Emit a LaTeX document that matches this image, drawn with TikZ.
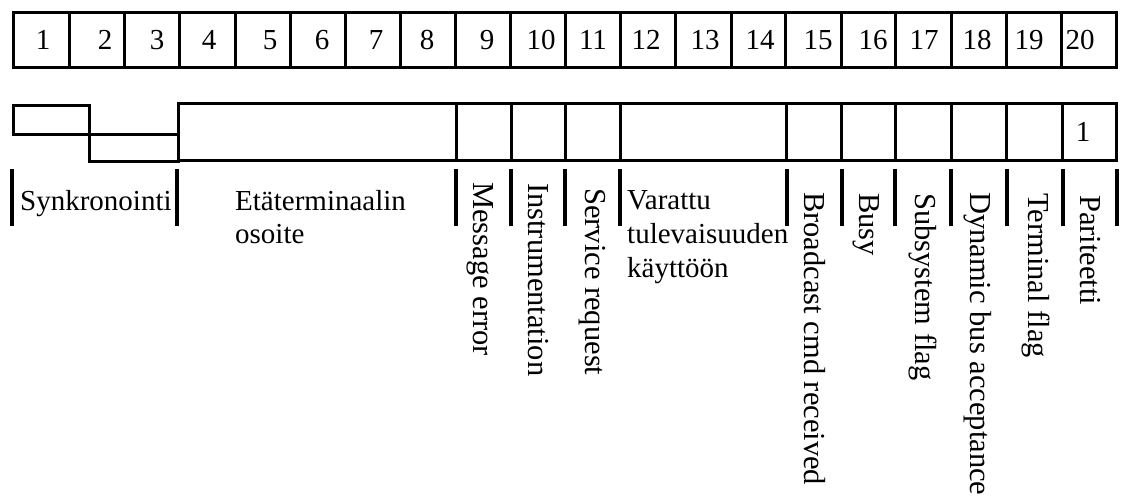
\documentclass[tikz,border=0pt]{standalone}
\usepackage{fontspec}
\setmainfont{Liberation Serif}
\begin{document}
\begin{tikzpicture}[x=1pt,y=-1pt,
  cell/.style={draw, line width=3pt, inner sep=0pt, outer sep=0pt},
  num/.style={font=\fontsize{29}{34}\selectfont, inner sep=0pt, anchor=base},
  lab/.style={font=\fontsize{29}{34}\selectfont, inner sep=0pt, anchor=base west},
  vlab/.style={font=\fontsize{30.5}{34}\selectfont, inner sep=0pt, anchor=base west, rotate=-90},
  tickline/.style={line width=3.5pt}]
\useasboundingbox (0,0) rectangle (1122,500);
% top row of bit cells
\foreach \i/\a/\b in {1/13/69,2/69/124,3/124/179,4/179/235,5/235/290,6/290/345,7/345/400,
  8/400/455,9/455/510,10/510/565,11/565/620,12/620/675,13/675/731,14/731/785,15/785/841,
  16/841/895,17/895/951,18/951/1006,19/1006/1061,20/1061/1116}
  \node[cell, minimum width={(\b-\a)*1pt}, minimum height=55pt] (t\i) at ({(\a+\b)/2},40.5) {};
\foreach \i/\x in {1/43,2/105,3/157,4/209,5/270,6/322,7/376,8/427,9/487,10/541,11/593,
  12/646,13/705,14/760,15/818,16/873,17/924,18/977,19/1029,20/1080}
  \node[num] (n\i) at (\x,50) {\i};
% sync waveform
\node[cell, minimum width=76pt, minimum height=29pt] (sync1) at (51,120.5) {};
\node[cell, minimum width=89pt, minimum height=27pt] (sync2) at (133.5,148.5) {};
% bottom row of fields
\foreach \i/\a/\b in {1/178/456,2/456/511,3/511/565,4/565/620,5/620/786,6/786/841,
  7/841/895,8/895/951,9/951/1006,10/1006/1062,11/1062/1116}
  \node[cell, minimum width={(\b-\a)*1pt}, minimum height=57pt] (b\i) at ({(\a+\b)/2},132.5) {};
\node[num] (one) at (1083,142) {1};
% ticks
\foreach \x in {12,177,456,511,565,620,787,842,895,951,1007,1063,1117}
  \draw[tickline] (\x,169) -- (\x,226);
% horizontal labels
\node[lab] (lsync) at (20,210) {Synkronointi};
\node[lab] (laddr1) at (235,210) {Etäterminaalin};
\node[lab] (laddr2) at (235,243) {osoite};
\node[lab] (lres1) at (627,209) {Varattu};
\node[lab] (lres2) at (627,243) {tulevaisuuden};
\node[lab] (lres3) at (627,277) {käyttöön};
% vertical labels
\node[vlab] (lme) at (473,182) {Message error};
\node[vlab] (lin) at (528,183) {Instrumentation};
\node[vlab] (lsr) at (585,188) {Service request};
\node[vlab] (lbc) at (804,192) {Broadcast cmd received};
\node[vlab] (lbu) at (859,193) {Busy};
\node[vlab] (lss) at (915,193) {Subsystem flag};
\node[vlab] (ldb) at (970,192) {Dynamic bus acceptance};
\node[vlab] (ltf) at (1028,193) {Terminal flag};
\node[vlab] (lpa) at (1080,195) {Pariteetti};
\end{tikzpicture}
\end{document}
